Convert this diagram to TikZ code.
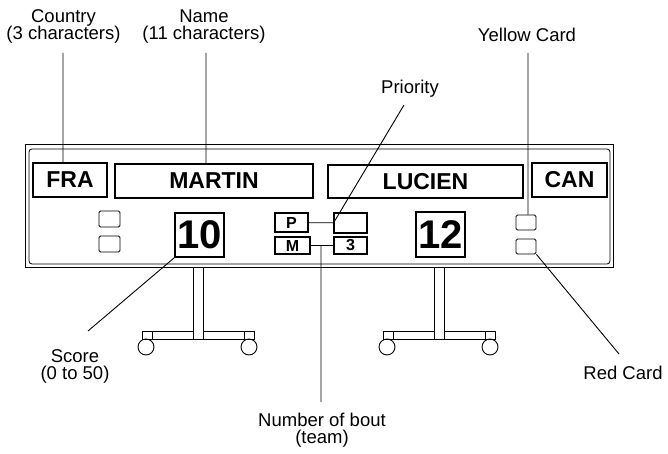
\documentclass[tikz,border=0pt]{standalone}
\usepackage{fontspec}
\setmainfont{Liberation Sans}
\usetikzlibrary{positioning}

\tikzset{
    panel/.style = {draw, line width=1.2pt, inner sep=0pt,
                    font=\bfseries\fontsize{23}{23}\selectfont},
    digits/.style = {draw, line width=1.6pt, inner sep=0pt,
                    minimum width=49pt, minimum height=44pt,
                    font=\bfseries\fontsize{40}{40}\selectfont},
    tally/.style = {draw, line width=1.1pt, inner sep=0pt,
                    minimum width=33pt, font=\bfseries\fontsize{16}{16}\selectfont},
    lamp/.style = {draw, line width=0.9pt, rounded corners=1.5pt, inner sep=0pt,
                   minimum width=21pt, minimum height=16pt},
    note/.style = {align=center, inner sep=0pt,
                   font=\fontsize{18.5}{17.5}\selectfont}
}

\begin{document}
\begin{tikzpicture}[x=1pt, y=-1pt]
    \useasboundingbox (0,0) rectangle (668,454);

    % frame of the board
    \draw [line width=1pt] (25,145) rectangle (613,267);
    \draw [line width=0.8pt, rounded corners=3pt] (29,149) rectangle (610,264);

    % top row
    \node (fra)    [panel, minimum width=74pt,  minimum height=34pt] at (70,180)     {FRA};
    \node (martin) [panel, minimum width=198pt, minimum height=34pt] at (214,181)    {MARTIN};
    \node (lucien) [panel, minimum width=195pt, minimum height=33pt] at (425.5,181.5) {LUCIEN};
    \node (can)    [panel, minimum width=75pt,  minimum height=34pt] at (569.5,180)  {CAN};

    % cards
    \node (yellowl) [lamp] at (109.5,219) {};
    \node (redl)    [lamp] at (109.5,244) {};
    \node (yellowr) [lamp, minimum width=20pt, minimum height=15pt] at (526,222.5) {};
    \node (redr)    [lamp, minimum width=20pt, minimum height=15pt] at (526,246.5) {};

    % scores
    \node (ten)    [digits] at (199.5,235)   {10};
    \node (twelve) [digits, minimum height=45pt] at (440.5,234.5) {12};

    % priority and bout
    \node (p)     [tally, minimum height=19pt] at (291.5,222.5) {P};
    \node (m)     [tally, minimum width=35pt, minimum height=17pt] at (292.5,245.5) {M};
    \node (prio)  [tally, minimum height=20pt] at (350.5,223)   {};
    \node (three) [tally, minimum height=17pt] at (350.5,245.5) {3};
    \draw [line width=0.8pt] (p) -- (prio);
    \draw [line width=0.8pt] (m) -- (three);

    % stands
    \foreach \bx in {142, 383} {
        \draw [line width=0.9pt]
            (\bx+51,267) -- (\bx+51,331) -- (\bx,331) -- (\bx,339)
            -- (\bx+112,339) -- (\bx+112,331) -- (\bx+61,331) -- (\bx+61,267);
        \draw [line width=0.9pt] (\bx+51,331) -- (\bx+51,339)
                                 (\bx+61,331) -- (\bx+61,339)
                                 (\bx+10,331) -- (\bx+10,339)
                                 (\bx+102,331) -- (\bx+102,339);
        \draw [line width=0.9pt] (\bx+4,347) circle [radius=8]
                                 (\bx+107,347) circle [radius=8];
    }

    % labels
    \node (country)  [note] at (63.5,26.4)  {Country\\(3 characters)};
    \node (name)     [note] at (204,26.4)   {Name\\(11 characters)};
    \node (yellow)   [note] at (527,35.3)   {Yellow Card};
    \node (priority) [note] at (410,88.3)   {Priority};
    \node (score)    [note] at (75,366.4)   {Score\\(0 to 50)};
    \node (red)      [note] at (623,373.3)  {Red Card};
    \node (bout)     [note] at (322,430.4)  {Number of bout\\(team)};

    \coordinate (countrytop)  at (63,53);
    \coordinate (nametop)     at (206,53);
    \coordinate (yellowtop)   at (528,53);
    \coordinate (prioritytop) at (404,105);
    \coordinate (scoreend)    at (88,331);
    \coordinate (redend)      at (619,354);
    \coordinate (boutend)     at (321,402);

    % leaders
    \path [draw, line width=0.9pt]
        (countrytop)  -- (countrytop |- fra.north)
        (nametop)     -- (nametop |- martin.north)
        (yellowtop)   -- (yellowtop |- yellowr.north)
        (prioritytop) -- (prio.west)
        (ten.south west) -- (scoreend)
        (redr.south east) -- (redend)
        (boutend)     -- (boutend |- m.east);
\end{tikzpicture}
\end{document}
